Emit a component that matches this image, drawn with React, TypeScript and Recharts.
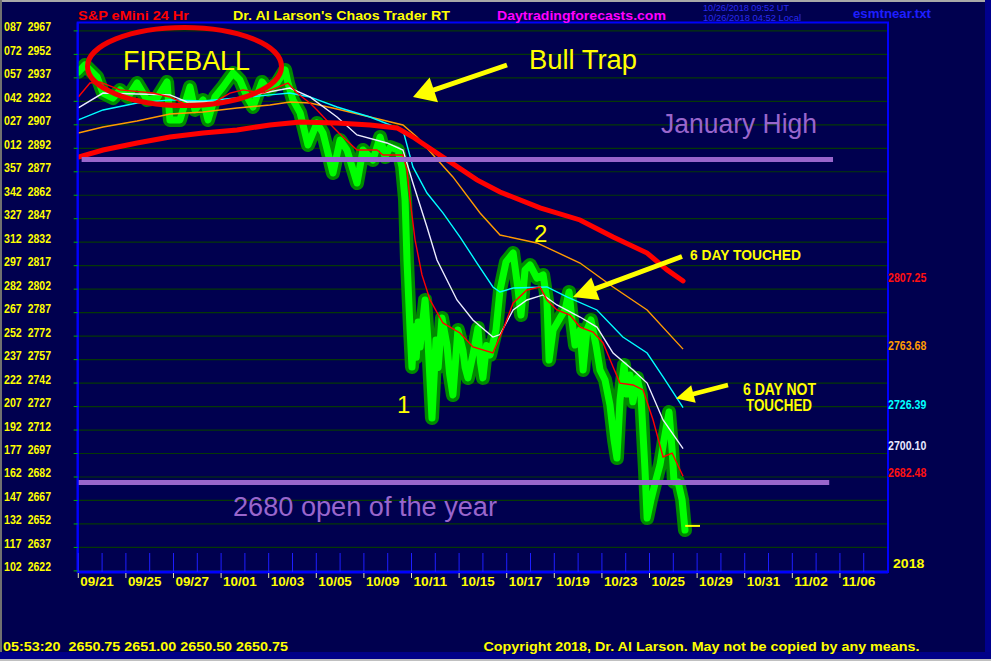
import React from 'react';
import { LineChart, Line, XAxis, YAxis, CartesianGrid, ReferenceLine, ReferenceArea, ReferenceDot } from 'recharts';

// trading days, 09/21 = day 0
const dateLabels = [
  '09/21', '09/24', '09/25', '09/26', '09/27', '09/28', '10/01', '10/02', '10/03', '10/04',
  '10/05', '10/08', '10/09', '10/10', '10/11', '10/12', '10/15', '10/16', '10/17', '10/18',
  '10/19', '10/22', '10/23', '10/24', '10/25', '10/26', '10/29', '10/30', '10/31', '11/01',
  '11/02', '11/05', '11/06', '11/07',
];

const priceTicks = [
  2622, 2637, 2652, 2667, 2682, 2697, 2712, 2727, 2742, 2757, 2772, 2787,
  2802, 2817, 2832, 2847, 2862, 2877, 2892, 2907, 2922, 2937, 2952, 2967,
];

// last values of the averages, shown on the right edge
const lastValues = [2807.25, 2763.68, 2726.39, 2700.1, 2682.48];
const lastColors = ['#ff1010', '#ff9a00', '#00ffff', '#e8e8ff', '#ff1010'];

// [day, price]
const price: [number, number][] = [
  [0, 2940.7], [0.28, 2945.2], [0.79, 2937.6], [1.04, 2927.3], [1.46, 2924.1], [1.75, 2929.3],
  [2.09, 2924.8], [2.47, 2933.7], [2.89, 2922.9], [3.31, 2924.1], [3.73, 2934.4], [3.85, 2910.1],
  [4.27, 2910.1], [4.69, 2931.2], [4.9, 2916.5], [5.24, 2922.9], [5.45, 2910.1], [5.74, 2924.8],
  [6.08, 2931.2], [6.5, 2940.1], [6.79, 2935.6], [7.09, 2924.8], [7.34, 2918.4], [7.72, 2934.4],
  [7.97, 2929.3], [8.35, 2933.7], [8.69, 2942.0], [8.81, 2933.7], [9.02, 2922.9], [9.32, 2914.6],
  [9.65, 2894.1], [10.03, 2908.2], [10.28, 2901.8], [10.7, 2876.2], [11.0, 2897.3], [11.29, 2890.9],
  [11.71, 2869.8], [11.96, 2890.9], [12.38, 2884.5], [12.68, 2899.2], [12.89, 2886.4], [13.1, 2892.8],
  [13.43, 2890.9], [13.6, 2880.1], [13.73, 2859.0], [13.81, 2820.6], [13.94, 2775.9], [14.02, 2752.3],
  [14.12, 2778.0], [14.2, 2758.5], [14.28, 2781.0], [14.36, 2765.0],
  [14.57, 2795.1], [14.69, 2769.5], [14.86, 2719.7], [15.03, 2769.5], [15.12, 2752.0], [15.28, 2783.6],
  [15.49, 2766.3], [15.6, 2748.0], [15.74, 2734.4], [15.95, 2775.9], [16.16, 2763.1], [16.25, 2752.0],
  [16.37, 2745.3], [16.58, 2759.9], [16.79, 2777.2], [16.9, 2755.0], [17.0, 2745.3], [17.15, 2766.0],
  [17.3, 2759.9], [17.55, 2775.9], [17.72, 2801.5], [17.97, 2819.4],
  [18.27, 2825.1], [18.48, 2801.5], [18.6, 2785.5], [18.77, 2814.3], [18.98, 2817.5], [19.27, 2809.1],
  [19.53, 2811.1], [19.69, 2795.1], [19.78, 2756.7], [19.95, 2775.9], [20.24, 2783.6], [20.45, 2788.7],
  [20.62, 2800.2], [20.74, 2782.3], [20.87, 2766.3], [21.08, 2775.9], [21.21, 2750.4], [21.37, 2775.9],
  [21.54, 2782.3], [21.75, 2766.3], [21.92, 2750.4], [22.13, 2744.0], [22.34, 2728.0], [22.51, 2705.6],
  [22.63, 2694.1], [22.76, 2731.2], [22.93, 2753.5], [23.05, 2735.0], [23.18, 2747.2], [23.3, 2730.0],
  [23.48, 2745.3], [23.64, 2734.4],
  [23.81, 2686.5], [23.9, 2655.8], [24.06, 2667.3], [24.27, 2680.1], [24.44, 2689.7], [24.61, 2705.6],
  [24.82, 2723.5], [24.95, 2699.3], [25.03, 2678.8], [25.2, 2678.8], [25.37, 2667.3], [25.49, 2648.1],
];

const slowMa: [number, number][] = [
  [0, 2886.4], [1.04, 2890.9], [2.47, 2895.4], [3.85, 2899.2], [5.24, 2901.8], [6.67, 2903.7],
  [8.05, 2906.9], [9.32, 2908.8], [10.87, 2908.2], [12.26, 2906.9], [13.39, 2905.0], [14.06, 2899.2],
  [15.32, 2886.4], [16.75, 2871.8], [17.72, 2864.1], [19.4, 2853.9], [21.08, 2846.2], [22.47, 2835.3],
  [23.9, 2825.1], [24.74, 2814.3], [25.41, 2807.25],
];

const orangeMa: [number, number][] = [
  [0, 2901.8], [1.04, 2905.6], [2.47, 2909.4], [3.85, 2913.9], [5.24, 2915.2], [6.67, 2917.7],
  [8.05, 2919.7], [8.89, 2921.6], [9.73, 2920.9], [10.87, 2917.1], [12.26, 2912.0], [13.64, 2906.9],
  [14.23, 2899.2], [15.74, 2873.7], [16.88, 2850.7], [17.72, 2836.6], [19.27, 2831.5], [21.08, 2818.7],
  [22.47, 2803.4], [23.9, 2788.7], [25.41, 2763.68],
];

const cyanMa: [number, number][] = [
  [0, 2910.1], [1.04, 2916.5], [2.47, 2920.9], [3.85, 2922.9], [5.24, 2922.2], [6.67, 2924.1],
  [8.05, 2926.1], [8.89, 2927.3], [9.73, 2924.8], [10.87, 2918.4], [12.26, 2912.0], [13.64, 2903.7],
  [14.06, 2880.1], [14.65, 2863.4], [15.32, 2850.7], [16.04, 2835.3], [16.75, 2818.7], [17.42, 2803.4],
  [17.72, 2800.2], [18.27, 2802.7], [19.69, 2803.4], [20.53, 2797.0], [21.79, 2788.7], [22.88, 2771.4],
  [23.9, 2761.2], [24.57, 2745.9], [25.41, 2726.39],
];

const whiteMa: [number, number][] = [
  [0, 2917.8], [1.04, 2927.3], [2.47, 2926.7], [3.85, 2926.1], [4.57, 2921.6], [5.95, 2921.6],
  [7.34, 2926.1], [8.89, 2930.5], [9.73, 2924.8], [10.87, 2912.0], [11.71, 2900.5], [12.97, 2895.4],
  [13.64, 2890.9], [14.06, 2869.8], [14.65, 2841.7], [15.07, 2820.6], [15.91, 2795.1], [16.58, 2782.3],
  [17.42, 2771.4], [17.72, 2773.0], [18.27, 2788.7], [18.85, 2795.1], [19.53, 2798.3], [20.11, 2791.9],
  [21.08, 2784.2], [21.79, 2777.8], [22.47, 2761.2], [23.31, 2750.4], [23.9, 2742.0], [24.57, 2718.4],
  [25.41, 2700.1],
];

const fastMa: [number, number][] = [
  [0, 2924.8], [0.49, 2933.7], [0.91, 2934.4], [1.75, 2929.3], [3.14, 2927.3], [3.85, 2924.8],
  [4.57, 2919.7], [5.53, 2919.7], [6.37, 2927.3], [6.92, 2929.3], [7.76, 2927.3], [8.81, 2933.7],
  [9.19, 2927.3], [9.73, 2920.9], [10.03, 2916.5], [10.7, 2905.6], [11.12, 2899.2], [11.71, 2890.9],
  [12.55, 2890.9], [12.8, 2887.7], [13.64, 2887.7], [13.81, 2878.1], [13.94, 2859.0], [14.15, 2833.4],
  [14.44, 2811.1], [14.78, 2795.1], [15.32, 2780.4], [16.04, 2774.0], [16.58, 2765.1], [17.42, 2761.2],
  [17.84, 2775.9], [18.27, 2793.2], [18.85, 2801.5], [19.4, 2803.4], [19.69, 2795.1], [20.11, 2788.7],
  [20.66, 2785.5], [21.08, 2777.8], [21.63, 2774.6], [22.05, 2767.6], [22.47, 2752.3], [22.76, 2742.0],
  [23.31, 2740.8], [23.73, 2737.6], [24.15, 2718.4], [24.57, 2694.8], [24.95, 2697.3], [25.41, 2682.48],
];

const januaryHigh = 2884.8;
const yearOpen = 2678.5;
const lastPrice = 2650.75;

const rows = (pts: [number, number][]) => pts.map(([d, v]) => ({ d, v }));
const dayTicks = dateLabels.map((_, i) => i);
const xDomain: [number, number] = [-0.025, 34.02];
const yDomain: [number, number] = [2621.3, 2972.3];

const SANS = "'Liberation Sans', Arial, sans-serif";
const NARROW = "'Liberation Sans Narrow', 'Liberation Sans', Arial, sans-serif";

const LeftTick = (props: any) => {
  const { y, payload } = props;
  const v = payload.value as number;
  const deg = String(v % 360).padStart(3, '0');
  return (
    <g fontFamily={NARROW} fontWeight="bold" fontSize={12.5} fill="#ffff00">
      <text x={4} y={y + 0.5} textLength={17.7} lengthAdjust="spacingAndGlyphs">{deg}</text>
      <text x={27.7} y={y + 0.5} textLength={23.3} lengthAdjust="spacingAndGlyphs">{v}</text>
    </g>
  );
};

const DayTick = (props: any) => {
  const { x, y, payload } = props;
  const i = payload.value as number;
  const labelled = i % 2 === 0;
  return (
    <g>
      <line x1={x} x2={x} y1={y - 19} y2={y} stroke="#1e1eff" strokeWidth={1} />
      {labelled && <line x1={x} x2={x} y1={y + 1} y2={y + 6} stroke="#e8e8b0" strokeWidth={1} />}
      {labelled && (
        <text x={x + 2} y={y + 13.7} fontFamily={SANS} fontWeight="bold" fontSize={13.5}
          fill="#ffff00" textLength={33.5} lengthAdjust="spacingAndGlyphs">
          {dateLabels[i]}
        </text>
      )}
    </g>
  );
};

function arrowHead(tail: [number, number], tip: [number, number], len: number, half: number) {
  const dx = tip[0] - tail[0];
  const dy = tip[1] - tail[1];
  const l = Math.hypot(dx, dy);
  const ux = dx / l, uy = dy / l;
  const bx = tip[0] - ux * len, by = tip[1] - uy * len;
  const px = -uy * half, py = ux * half;
  return {
    shaftEnd: [bx + ux * 2, by + uy * 2],
    points: `${tip[0]},${tip[1]} ${bx + px},${by + py} ${bx - px},${by - py}`,
  };
}

const Arrow = ({ tail, tip, len, half, w }: { tail: [number, number]; tip: [number, number]; len: number; half: number; w: number }) => {
  const a = arrowHead(tail, tip, len, half);
  return (
    <g>
      <line x1={tail[0]} y1={tail[1]} x2={a.shaftEnd[0]} y2={a.shaftEnd[1]} stroke="#ffff00" strokeWidth={w} />
      <polygon points={a.points} fill="#ffff00" />
    </g>
  );
};

export default function App() {
  const lineProps = { dataKey: 'v', dot: false, isAnimationActive: false, activeDot: false, type: 'linear' as const };
  return (
    <div style={{ position: 'absolute', left: 0, top: 0, width: 991, height: 661, background: '#00004f', overflow: 'hidden' }}>
      <LineChart width={991} height={661} margin={{ top: 22.6, right: 103, bottom: 0, left: 0 }}>
        <CartesianGrid vertical={false} stroke="#063806" strokeWidth={1.2} />
        <XAxis dataKey="d" type="number" domain={xDomain} ticks={dayTicks} interval={0} allowDataOverflow
          height={89} tickSize={0} tickMargin={0} tickLine={false} tick={DayTick}
          axisLine={{ stroke: '#0000ff', strokeWidth: 3 }} />
        <YAxis type="number" domain={yDomain} ticks={priceTicks} interval={0} allowDataOverflow width={77.7}
          tickSize={4} tickLine={{ stroke: '#00b000' }} tick={LeftTick}
          axisLine={{ stroke: '#0000ff', strokeWidth: 2 }} />
        <ReferenceArea x1={xDomain[0]} x2={xDomain[1]} y1={yDomain[0]} y2={yDomain[1]} ifOverflow="visible"
          fill="none" fillOpacity={0} stroke="#0000ff" strokeWidth={2} />

        <Line {...lineProps} data={rows(price)} stroke="#008a00" strokeWidth={14} strokeLinejoin="round" strokeLinecap="round" />
        <Line {...lineProps} data={rows(price)} stroke="#00ff00" strokeWidth={7} strokeLinejoin="round" strokeLinecap="round" />
        <Line {...lineProps} data={rows(orangeMa)} stroke="#ff9a00" strokeWidth={1.4} />
        <Line {...lineProps} data={rows(cyanMa)} stroke="#00ffff" strokeWidth={1.4} />
        <Line {...lineProps} data={rows(whiteMa)} stroke="#ececff" strokeWidth={1.4} />
        <Line {...lineProps} data={rows(fastMa)} stroke="#ff0000" strokeWidth={1.4} />
        <Line {...lineProps} data={rows(slowMa)} stroke="#ff0000" strokeWidth={5} strokeLinecap="round" />

        <ReferenceLine ifOverflow="visible" segment={[{ x: 0.14, y: januaryHigh }, { x: 31.71, y: januaryHigh }]}
          stroke="#9966cc" strokeWidth={5} />
        <ReferenceLine ifOverflow="visible" segment={[{ x: -0.02, y: yearOpen }, { x: 31.55, y: yearOpen }]}
          stroke="#9966cc" strokeWidth={5} />
        <ReferenceLine ifOverflow="visible" segment={[{ x: 25.5, y: lastPrice }, { x: 26.12, y: lastPrice }]}
          stroke="#ffff00" strokeWidth={2} />

        {lastValues.map((v, i) => (
          <ReferenceDot key={v} x={xDomain[1]} y={v} r={0} ifOverflow="visible"
            shape={(p: any) => (
              <text x={p.cx} y={p.cy + 1} fontFamily={NARROW} fontWeight="bold" fontSize={12.5}
                fill={lastColors[i]} textLength={38.3} lengthAdjust="spacingAndGlyphs">
                {v.toFixed(2)}
              </text>
            )} />
        ))}
      </LineChart>

      <svg width={991} height={661} style={{ position: 'absolute', left: 0, top: 0, pointerEvents: 'none' }}>
        <rect x={0} y={0} width={991} height={2} fill="#a8a8a8" />
        <rect x={0} y={0} width={2} height={661} fill="#707070" />
        <rect x={985} y={0} width={6} height={661} fill="#00008c" />
        <rect x={0} y={652} width={991} height={7} fill="#000088" />
        <rect x={0} y={659} width={991} height={2} fill="#c0c0c0" />

        <g fontFamily={SANS} fontWeight="bold" fontSize={13.5}>
          <text x={78} y={19.5} fill="#ff0000" textLength={111} lengthAdjust="spacingAndGlyphs">{'S&P eMini 24 Hr'}</text>
          <text x={233} y={19.5} fill="#ffff00" textLength={217} lengthAdjust="spacingAndGlyphs">{"Dr. Al Larson's Chaos Trader RT"}</text>
          <text x={497} y={19.5} fill="#ff00ff" textLength={169} lengthAdjust="spacingAndGlyphs">Daytradingforecasts.com</text>
          <text x={853} y={18.3} fill="#1e1eff" textLength={78} lengthAdjust="spacingAndGlyphs">esmtnear.txt</text>
        </g>
        <g fontFamily={SANS} fontSize={9.5} fill="#2a2af0">
          <text x={703} y={10.7} textLength={86} lengthAdjust="spacingAndGlyphs">10/26/2018 09:52 UT</text>
          <text x={703} y={21.2} textLength={98} lengthAdjust="spacingAndGlyphs">10/26/2018 04:52 Local</text>
        </g>

        <ellipse cx={184.5} cy={66.5} rx={97} ry={39} fill="none" stroke="#f00000" strokeWidth={5} />

        <g fontFamily={SANS} fontSize={27}>
          <text x={123} y={70} fill="#ffff00" textLength={127} lengthAdjust="spacingAndGlyphs">FIREBALL</text>
          <text x={529} y={68.5} fill="#ffff00" textLength={108} lengthAdjust="spacingAndGlyphs">Bull Trap</text>
          <text x={661} y={133} fill="#9966cc" textLength={156} lengthAdjust="spacingAndGlyphs">January High</text>
          <text x={233} y={516} fill="#9966cc" textLength={264} lengthAdjust="spacingAndGlyphs">2680 open of the year</text>
          <text x={534} y={241.5} fill="#ffff00" fontSize={24}>2</text>
          <text x={397} y={413} fill="#ffff00" fontSize={24}>1</text>
        </g>

        <g fontFamily={SANS} fontWeight="bold" fill="#ffff00">
          <text x={690} y={259.5} fontSize={15} textLength={111} lengthAdjust="spacingAndGlyphs">6 DAY TOUCHED</text>
          <text x={743} y={395} fontSize={16} textLength={73} lengthAdjust="spacingAndGlyphs">6 DAY NOT</text>
          <text x={746} y={410.7} fontSize={16} textLength={66} lengthAdjust="spacingAndGlyphs">TOUCHED</text>
          <text x={893} y={567.5} fontSize={13} textLength={31.3} lengthAdjust="spacingAndGlyphs">2018</text>
        </g>

        <Arrow tail={[507, 65]} tip={[413, 97]} len={22} half={13} w={5} />
        <Arrow tail={[682, 256.5]} tip={[573, 297]} len={24} half={12} w={5} />
        <Arrow tail={[728, 385]} tip={[676, 398.5]} len={18} half={9} w={4.5} />

        <g fontFamily={SANS} fontWeight="bold" fontSize={13} fill="#ffff00">
          <text x={3} y={650.5} xmlSpace="preserve" textLength={285} lengthAdjust="spacingAndGlyphs">{'05:53:20  2650.75 2651.00 2650.50 2650.75'}</text>
          <text x={483.5} y={650.5} textLength={436} lengthAdjust="spacingAndGlyphs">Copyright 2018, Dr. Al Larson. May not be copied by any means.</text>
        </g>
      </svg>
    </div>
  );
}
